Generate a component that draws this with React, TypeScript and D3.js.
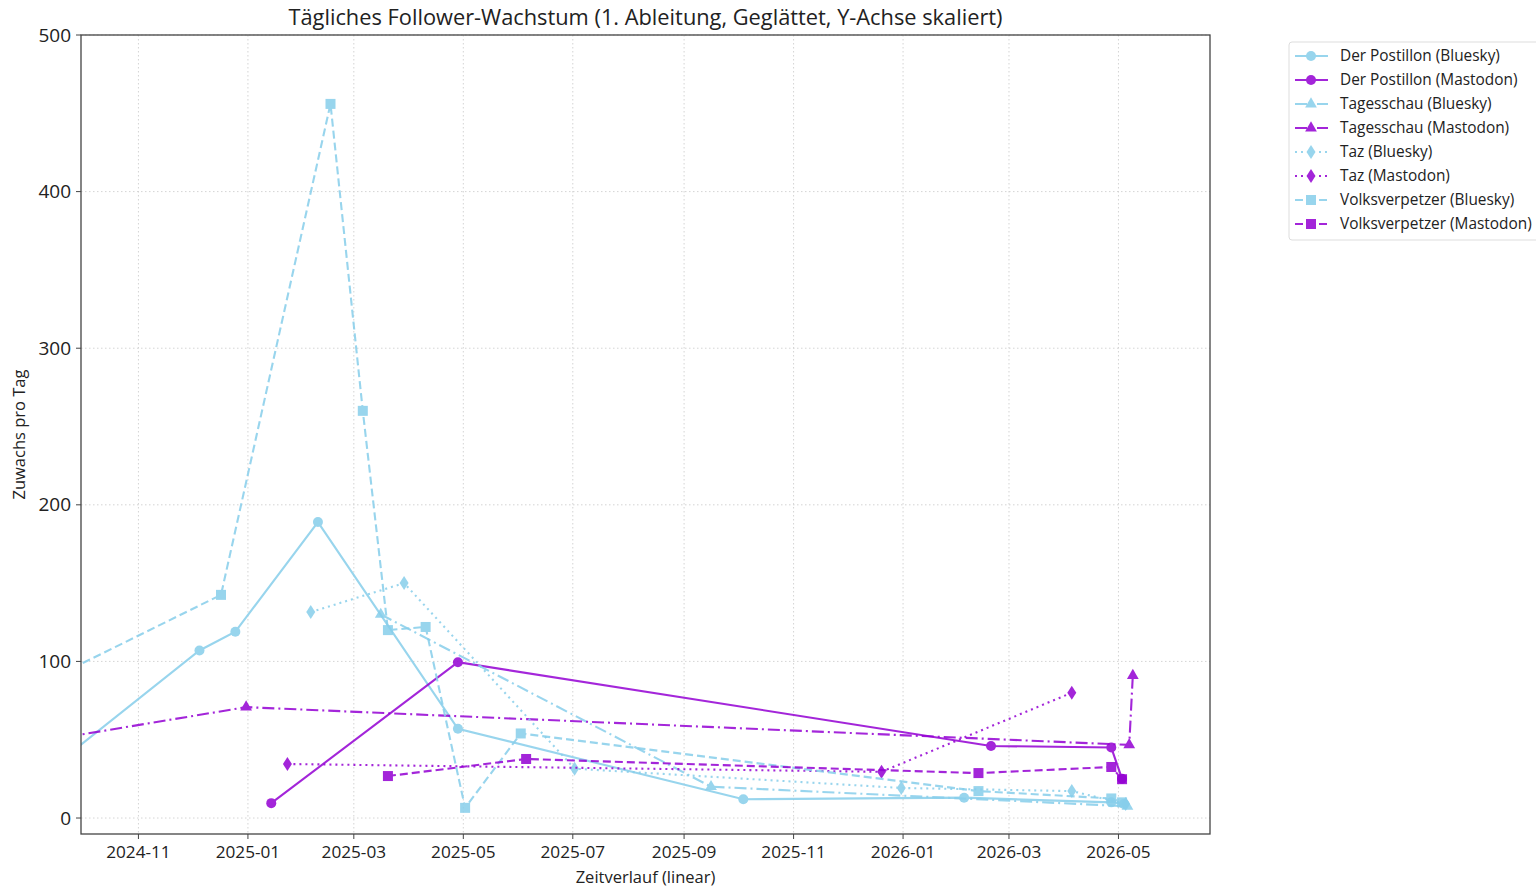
import React from "react";
import * as d3 from "d3";

const BLUE = "#87CEEB";
const PURPLE = "#9400D3";

const postillonBlueskyDates = ["2024-09-18", "2024-12-05", "2024-12-25", "2025-02-09", "2025-04-28", "2025-10-04", "2026-02-04", "2026-04-27", "2026-05-04"];
const postillonBlueskyValues = [36, 107, 119, 189, 57, 12, 13, 10, 9];

const postillonMastodonDates = ["2025-01-14", "2025-04-28", "2026-02-19", "2026-04-27", "2026-05-03"];
const postillonMastodonValues = [9.5, 99.5, 46, 45, 25];

const tagesschauBlueskyDates = ["2025-03-16", "2025-09-16", "2026-05-06"];
const tagesschauBlueskyValues = [130, 20, 7.5];

const tagesschauMastodonDates = ["2024-09-10", "2024-12-31", "2026-05-07", "2026-05-09"];
const tagesschauMastodonValues = [49.5, 70.8, 46.7, 91];

const tazBlueskyDates = ["2025-02-05", "2025-03-29", "2025-07-02", "2025-12-31", "2026-04-05", "2026-05-05"];
const tazBlueskyValues = [131.5, 150, 31.5, 19.2, 17.2, 9];

const tazMastodonDates = ["2025-01-23", "2025-12-20", "2026-04-05"];
const tazMastodonValues = [34.5, 29.5, 80];

const volksBlueskyDates = ["2024-09-01", "2024-12-17", "2025-02-16", "2025-03-06", "2025-03-20", "2025-04-10", "2025-05-02", "2025-06-02", "2026-02-12", "2026-04-27", "2026-05-03"];
const volksBlueskyValues = [82, 142.5, 456, 260, 120, 122, 6.5, 54, 17.2, 12.5, 10];

const volksMastodonDates = ["2025-03-20", "2025-06-05", "2026-02-12", "2026-04-27", "2026-05-03"];
const volksMastodonValues = [26.8, 37.7, 28.7, 32.6, 24.8];

const seriesNames = [
  "Der Postillon (Bluesky)",
  "Der Postillon (Mastodon)",
  "Tagesschau (Bluesky)",
  "Tagesschau (Mastodon)",
  "Taz (Bluesky)",
  "Taz (Mastodon)",
  "Volksverpetzer (Bluesky)",
  "Volksverpetzer (Mastodon)",
];

const xTickLabels = ["2024-11", "2025-01", "2025-03", "2025-05", "2025-07", "2025-09", "2025-11", "2026-01", "2026-03", "2026-05"];
const yTicks = [0, 100, 200, 300, 400, 500];

type Style = "solid" | "dashed" | "dashdot" | "dotted";
type Marker = "circle" | "triangle" | "diamond" | "square";

const parse = d3.timeParse("%Y-%m-%d");
const parseM = d3.timeParse("%Y-%m");

const seriesData: { dates: string[]; values: number[]; color: string; style: Style; marker: Marker }[] = [
  { dates: postillonBlueskyDates, values: postillonBlueskyValues, color: BLUE, style: "solid", marker: "circle" },
  { dates: postillonMastodonDates, values: postillonMastodonValues, color: PURPLE, style: "solid", marker: "circle" },
  { dates: tagesschauBlueskyDates, values: tagesschauBlueskyValues, color: BLUE, style: "dashdot", marker: "triangle" },
  { dates: tagesschauMastodonDates, values: tagesschauMastodonValues, color: PURPLE, style: "dashdot", marker: "triangle" },
  { dates: tazBlueskyDates, values: tazBlueskyValues, color: BLUE, style: "dotted", marker: "diamond" },
  { dates: tazMastodonDates, values: tazMastodonValues, color: PURPLE, style: "dotted", marker: "diamond" },
  { dates: volksBlueskyDates, values: volksBlueskyValues, color: BLUE, style: "dashed", marker: "square" },
  { dates: volksMastodonDates, values: volksMastodonValues, color: PURPLE, style: "dashed", marker: "square" },
];

const dashFor = (s: Style) =>
  s === "dashed" ? "8,4" : s === "dashdot" ? "12,4,2,4" : s === "dotted" ? "2,4" : undefined;

const FONT = "'Open Sans', Roboto, sans-serif";

function MarkerShape({ type, x, y, color }: { type: Marker; x: number; y: number; color: string }) {
  if (type === "circle") return <circle cx={x} cy={y} r={5} fill={color} />;
  if (type === "square") return <rect x={x - 5} y={y - 5} width={10} height={10} fill={color} />;
  if (type === "triangle") {
    const p = d3.symbol(d3.symbolTriangle, 60)();
    return <path d={p || ""} transform={`translate(${x},${y})`} fill={color} />;
  }
  return <path d="M0,-7 L4.5,0 L0,7 L-4.5,0 Z" transform={`translate(${x},${y})`} fill={color} />;
}

export default function App() {
  const W = 1536, H = 887;
  const left = 81, right = 1210, top = 35, bottom = 834;
  const x = d3.scaleTime().domain([parse("2024-09-30")!, parse("2026-06-21")!]).range([left, right]);
  const y = d3.scaleLinear().domain([-10.2, 500]).range([bottom, top]);
  const line = d3.line<[Date, number]>().x((d) => x(d[0])).y((d) => y(d[1]));
  const xTicks = xTickLabels.map((t) => parseM(t)!);

  return (
    <svg width={W} height={H} style={{ position: "absolute", left: 0, top: 0, background: "#fff" }} fontFamily={FONT}>
      <defs>
        <clipPath id="plotclip">
          <rect x={left} y={top} width={right - left} height={bottom - top} />
        </clipPath>
      </defs>
      {/* grid */}
      <g stroke="#cfcfcf" strokeWidth={0.9} strokeDasharray="1.5,2.5">
        {xTicks.map((t, i) => (
          <line key={"gx" + i} x1={x(t)} x2={x(t)} y1={top} y2={bottom} />
        ))}
        {yTicks.map((t, i) => (
          <line key={"gy" + i} x1={left} x2={right} y1={y(t)} y2={y(t)} />
        ))}
      </g>
      {/* series */}
      <g clipPath="url(#plotclip)">
        {seriesData.map((s, i) => {
          const pts: [Date, number][] = s.dates.map((d, j) => [parse(d)!, s.values[j]]);
          return (
            <g key={"s" + i} opacity={0.85}>
              <path d={line(pts) || ""} fill="none" stroke={s.color} strokeWidth={2.1} strokeDasharray={dashFor(s.style)} />
              {pts.map((p, j) => (
                <MarkerShape key={j} type={s.marker} x={x(p[0])} y={y(p[1])} color={s.color} />
              ))}
            </g>
          );
        })}
      </g>
      {/* frame */}
      <rect x={left} y={top} width={right - left} height={bottom - top} fill="none" stroke="#444" strokeWidth={1.3} />
      {/* x ticks */}
      {xTicks.map((t, i) => (
        <g key={"xt" + i}>
          <line x1={x(t)} x2={x(t)} y1={bottom} y2={bottom + 5} stroke="#444" strokeWidth={1} />
          <text x={x(t)} y={bottom + 24} textAnchor="middle" fontSize={17.2} fill="#222">
            {xTickLabels[i]}
          </text>
        </g>
      ))}
      {/* y ticks */}
      {yTicks.map((t, i) => (
        <g key={"yt" + i}>
          <line x1={left - 5} x2={left} y1={y(t)} y2={y(t)} stroke="#444" strokeWidth={1} />
          <text x={left - 10} y={y(t) + 6.5} textAnchor="end" fontSize={19} fill="#222">
            {t}
          </text>
        </g>
      ))}
      {/* titles */}
      <text x={(left + right) / 2} y={25} textAnchor="middle" fontSize={21.8} fill="#222">
        Tägliches Follower-Wachstum (1. Ableitung, Geglättet, Y-Achse skaliert)
      </text>
      <text x={(left + right) / 2} y={883} textAnchor="middle" fontSize={16.5} fill="#222">
        Zeitverlauf (linear)
      </text>
      <text transform={`translate(25,${(top + bottom) / 2}) rotate(-90)`} textAnchor="middle" fontSize={16.5} fill="#222">
        Zuwachs pro Tag
      </text>
      {/* legend */}
      <g>
        <rect x={1289} y={42} width={252} height={198} rx={3} fill="#fff" stroke="#ddd" strokeWidth={1} />
        {seriesData.map((s, i) => {
          const ly = 56 + i * 24;
          return (
            <g key={"lg" + i}>
              <g opacity={0.85}>
                <line x1={1295} x2={1328} y1={ly} y2={ly} stroke={s.color} strokeWidth={2.1} strokeDasharray={dashFor(s.style)} />
                <MarkerShape type={s.marker} x={1311} y={ly} color={s.color} />
              </g>
              <text x={1340} y={ly + 5} fontSize={15.4} fill="#222">
                {seriesNames[i]}
              </text>
            </g>
          );
        })}
      </g>
    </svg>
  );
}
